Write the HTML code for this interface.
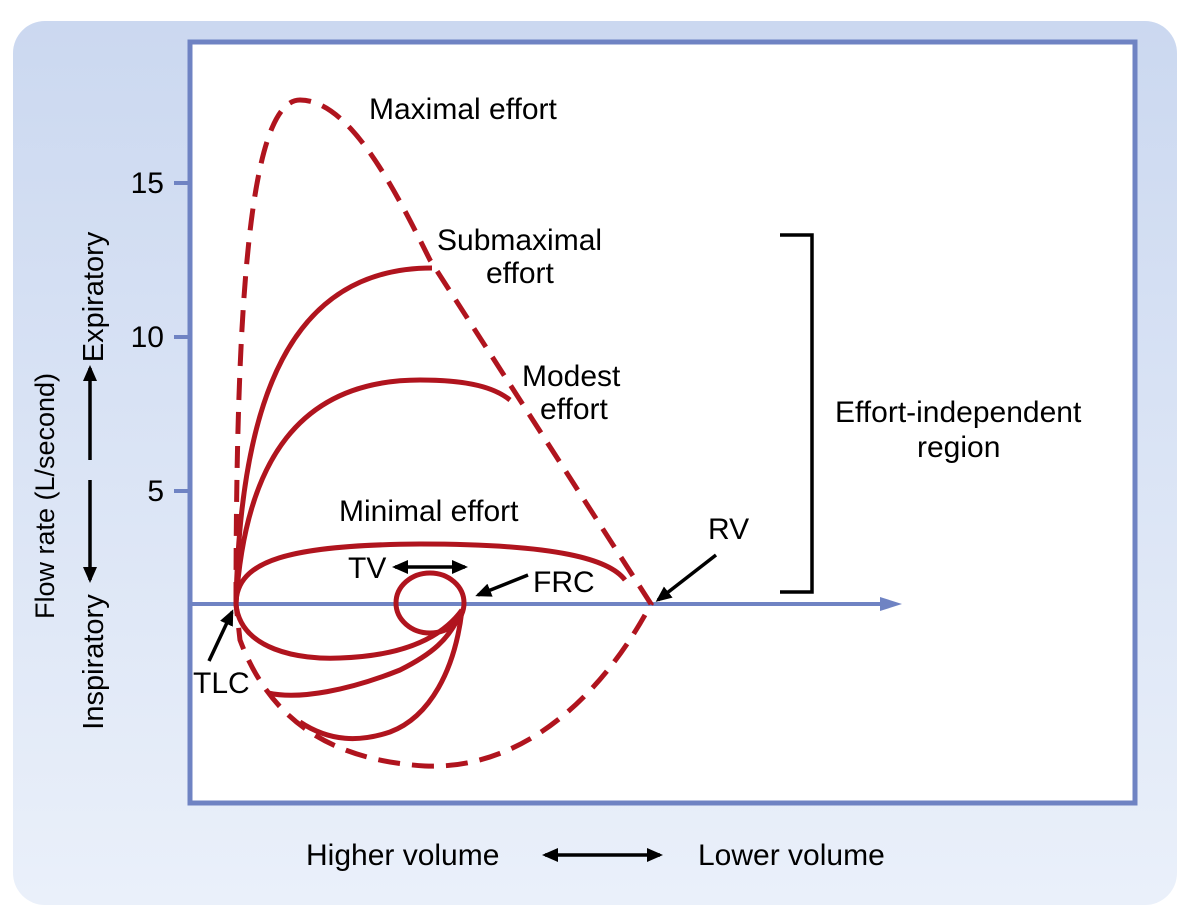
<!DOCTYPE html>
<html><head><style>
body{margin:0;background:#fff;}
svg{display:block;font-family:"Liberation Sans",Arial,sans-serif;}
</style></head><body>
<svg width="1193" height="914" viewBox="0 0 1193 914">
<defs>
<linearGradient id="bg" x1="0" y1="0" x2="0" y2="1"><stop offset="0" stop-color="#cbd8f0"/><stop offset="1" stop-color="#eaf0fa"/></linearGradient>
<marker id="ah" markerWidth="16" markerHeight="14" refX="13" refY="7" orient="auto" markerUnits="userSpaceOnUse"><path d="M0,0 L16,7 L0,14 Z" fill="#000"/></marker>
<marker id="ahs" markerWidth="16" markerHeight="14" refX="13" refY="7" orient="auto-start-reverse" markerUnits="userSpaceOnUse"><path d="M0,0 L16,7 L0,14 Z" fill="#000"/></marker>
</defs>
<rect x="13" y="21" width="1164" height="884" rx="32" fill="url(#bg)"/>
<rect x="190" y="42" width="945" height="761" fill="#fff" stroke="#6f83c3" stroke-width="5"/>
<g stroke="#6f83c3" stroke-width="4"><line x1="174" y1="183" x2="190" y2="183"/><line x1="174" y1="337" x2="190" y2="337"/><line x1="174" y1="491" x2="190" y2="491"/>
<line x1="190" y1="604" x2="885" y2="604"/></g>
<path d="M880,597 L902,604 L880,611 Z" fill="#6f83c3"/>
<g font-size="30" fill="#000">
<text x="164" y="193" text-anchor="end">15</text><text x="164" y="347" text-anchor="end">10</text><text x="164" y="501" text-anchor="end">5</text>
</g>
<g fill="none" stroke="#b0141e" stroke-width="5">
<path d="M236,604 C236,300 250,100 300,100 C350,100 395,190 430,260 L651,604 C600,700 520,770 425,766 C330,760 270,720 240,640 L236,604" stroke-dasharray="22,12"/>
<path d="M236,604 C240,400 290,268 432,268"/>
<path d="M236,604 C245,460 300,380 420,380 C470,380 495,388 510,400"/>
<path d="M236,604 C236,560 290,545 420,544 C560,544 610,560 625,580"/>
<path d="M236,604 C240,650 300,660 340,658 C400,656 440,640 462,610"/>
<path d="M268,693 C300,700 350,690 400,670 C430,655 450,640 462,610"/>
<path d="M300,722 C330,742 360,742 390,732 C430,717 455,670 462,610"/>
<ellipse cx="430" cy="603" rx="34" ry="30"/>
</g>
<g stroke="#000" stroke-width="3.5" fill="none">
<line x1="209" y1="661" x2="232" y2="612" marker-end="url(#ah)"/>
<line x1="528" y1="575" x2="478" y2="595" marker-end="url(#ah)"/>
<line x1="716" y1="555" x2="658" y2="600" marker-end="url(#ah)"/>
<line x1="395" y1="567" x2="465" y2="567" marker-start="url(#ahs)" marker-end="url(#ah)"/>
<line x1="545" y1="855" x2="660" y2="855" marker-start="url(#ahs)" marker-end="url(#ah)"/>
<line x1="90" y1="460" x2="90" y2="368" marker-end="url(#ah)"/>
<line x1="90" y1="480" x2="90" y2="580" marker-end="url(#ah)"/>
<path d="M780,235 L812,235 L812,592 L780,592"/>
</g>
<g font-size="30" fill="#000">
<text x="369" y="119">Maximal effort</text>
<text x="437" y="250">Submaximal</text><text x="486" y="283">effort</text>
<text x="522" y="386">Modest</text><text x="540" y="419">effort</text>
<text x="835" y="422">Effort-independent</text><text x="917" y="457">region</text>
<text x="339" y="521">Minimal effort</text>
<text x="348" y="578">TV</text><text x="533" y="592">FRC</text><text x="708" y="539">RV</text><text x="193" y="693">TLC</text>
<text x="306" y="865">Higher volume</text><text x="698" y="865">Lower volume</text>
<text transform="translate(54,496) rotate(-90)" text-anchor="middle" font-size="27">Flow rate (L/second)</text>
<text transform="translate(103,297) rotate(-90)" text-anchor="middle" font-size="29">Expiratory</text>
<text transform="translate(103,662) rotate(-90)" text-anchor="middle" font-size="29">Inspiratory</text>
</g>
</svg>
</body></html>
